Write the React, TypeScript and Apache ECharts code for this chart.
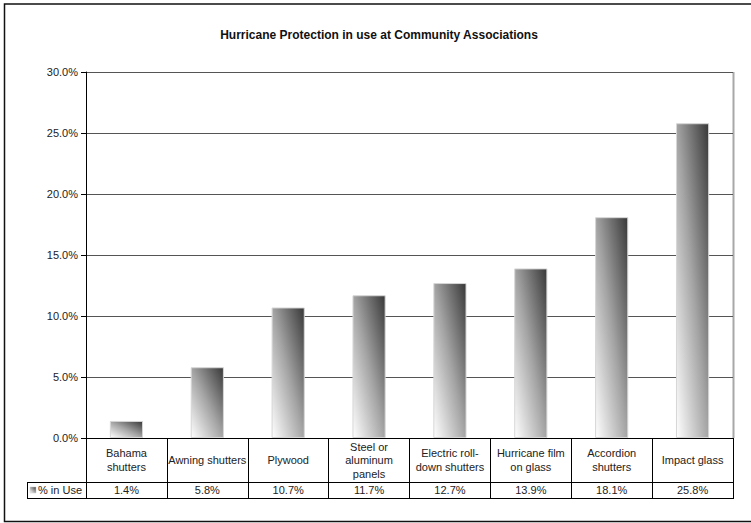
import React, { useEffect, useRef } from "react";
import * as echarts from "echarts";

// Protection types, as the data table wraps them
const categories: string[] = [
  "Bahama\nshutters",
  "Awning shutters",
  "Plywood",
  "Steel or\naluminum\npanels",
  "Electric roll-\ndown shutters",
  "Hurricane film\non glass",
  "Accordion\nshutters",
  "Impact glass",
];

// Share of associations using each type (fraction)
const usage: number[] = [0.014, 0.058, 0.107, 0.117, 0.127, 0.139, 0.181, 0.258];

const seriesName = "% in Use";
const chartTitle = "Hurricane Protection in use at Community Associations";

const yMin = 0;
const yMax = 0.3;
const yStep = 0.05;

const FONT = "Arial, 'Liberation Sans', Helvetica, sans-serif";
const W = 751;
const H = 523;
const GRID = { left: 86, right: 18, top: 72, bottom: 85 };

const pct = (v: number) => (v * 100).toFixed(1) + "%";

const barFill = () =>
  new echarts.graphic.LinearGradient(0, 1, 1, 0, [
    { offset: 0, color: "#ffffff" },
    { offset: 0.5, color: "#a4a4a4" },
    { offset: 1, color: "#383838" },
  ]);

export default function App() {
  const ref = useRef<HTMLDivElement>(null);

  useEffect(() => {
    if (!ref.current) return;
    const chart = echarts.init(ref.current, null, { renderer: "svg" });

    const plotL = GRID.left;
    const plotR = W - GRID.right;
    const plotT = GRID.top;
    const axisY = H - GRID.bottom;
    const rowSplit = axisY + 44;
    const tableBottom = axisY + 60.5;
    const keyLeft = 27;

    chart.setOption({
      animation: false,
      backgroundColor: "#ffffff",
      title: {
        text: chartTitle,
        left: 374,
        textAlign: "center",
        top: 24,
        textStyle: { fontFamily: FONT, fontSize: 12, fontWeight: "bold", color: "#111" },
      },
      grid: GRID,
      xAxis: [
        {
          type: "category",
          data: categories,
          boundaryGap: true,
          axisLine: { show: true, lineStyle: { color: "#000", width: 1 } },
          axisTick: { show: true, interval: 0, length: 60, lineStyle: { color: "#000", width: 1 } },
          axisLabel: {
            interval: 0,
            margin: 22,
            fontFamily: FONT,
            fontSize: 11,
            color: "#222",
            lineHeight: 13.5,
            align: "center",
            verticalAlign: "middle",
          },
          splitLine: { show: false },
        },
        {
          type: "category",
          position: "bottom",
          data: categories,
          boundaryGap: true,
          axisLine: { show: false },
          axisTick: { show: false },
          axisLabel: {
            interval: 0,
            margin: 52,
            fontFamily: FONT,
            fontSize: 11,
            color: "#222",
            verticalAlign: "middle",
            formatter: (_v: string, i: number) => pct(usage[i]),
          },
          splitLine: { show: false },
        },
      ],
      yAxis: {
        type: "value",
        min: yMin,
        max: yMax,
        interval: yStep,
        axisLine: { show: true, lineStyle: { color: "#000", width: 1 } },
        axisTick: { show: true, length: 5, inside: false, lineStyle: { color: "#000" } },
        axisLabel: {
          margin: 8,
          fontFamily: FONT,
          fontSize: 11,
          color: "#222",
          formatter: (v: number) => pct(v),
        },
        splitLine: { show: true, lineStyle: { color: "#555", width: 1 } },
      },
      series: [
        {
          name: seriesName,
          type: "bar",
          xAxisIndex: 0,
          data: usage,
          barWidth: "41%",
          itemStyle: { color: barFill(), borderColor: "#d6d6d6", borderWidth: 1 },
        },
      ],
      graphic: [
        // outer chart frame
        {
          type: "rect",
          shape: { x: 4.5, y: 4, width: 760, height: 517.5 },
          style: { fill: "none", stroke: "#111", lineWidth: 1.5 },
          silent: true,
        },
        // plot area right edge
        {
          type: "line",
          shape: { x1: plotR + 0.5, y1: plotT, x2: plotR + 0.5, y2: axisY },
          style: { stroke: "#a8a8a8", lineWidth: 2 },
          silent: true,
        },
        // data table rules
        {
          type: "line",
          shape: { x1: keyLeft, y1: rowSplit + 0.5, x2: plotR + 1, y2: rowSplit + 0.5 },
          style: { stroke: "#000", lineWidth: 1 },
          silent: true,
        },
        {
          type: "line",
          shape: { x1: keyLeft, y1: tableBottom, x2: plotR + 1, y2: tableBottom },
          style: { stroke: "#000", lineWidth: 1 },
          silent: true,
        },
        {
          type: "line",
          shape: { x1: keyLeft + 0.5, y1: rowSplit, x2: keyLeft + 0.5, y2: tableBottom },
          style: { stroke: "#000", lineWidth: 1 },
          silent: true,
        },
        // legend key in the table
        {
          type: "rect",
          shape: { x: 30, y: 487, width: 6, height: 6 },
          style: { fill: barFill(), stroke: "#c8c8c8", lineWidth: 0.5 },
          silent: true,
        },
        {
          type: "text",
          x: 38,
          y: (rowSplit + tableBottom) / 2,
          style: {
            text: seriesName,
            fontFamily: FONT,
            fontSize: 11,
            fill: "#222",
            verticalAlign: "middle",
            align: "left",
          },
          silent: true,
        },
        {
          type: "line",
          shape: { x1: plotL + 0.5, y1: axisY, x2: plotL + 0.5, y2: tableBottom },
          style: { stroke: "#000", lineWidth: 1 },
          silent: true,
        },
      ],
    });

    return () => chart.dispose();
  }, []);

  return (
    <div
      ref={ref}
      style={{ position: "absolute", left: 0, top: 0, width: W, height: H, background: "#fff" }}
    />
  );
}
